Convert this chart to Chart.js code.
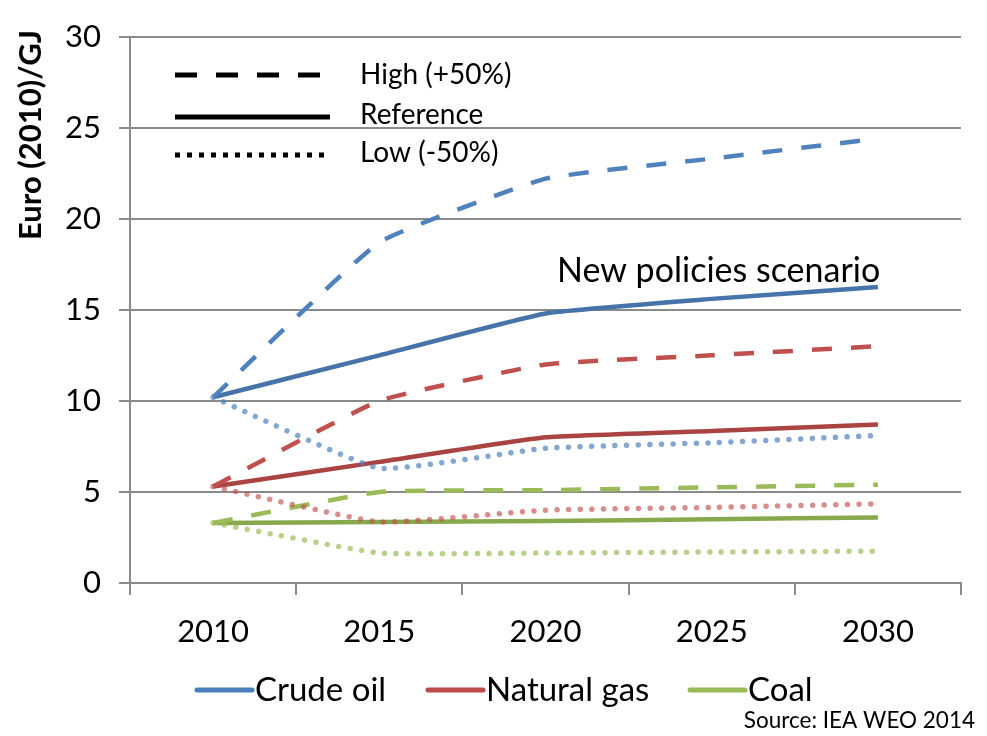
<!DOCTYPE html>
<html>
<head>
<meta charset="utf-8">
<script src="https://cdn.jsdelivr.net/npm/chart.js@4/dist/chart.umd.min.js"></script>
<style>
  body { margin: 0; background: #fff; }
  #chart { display: block; }
</style>
</head>
<body>
<canvas id="chart" width="987" height="736"></canvas>
<script>
// Data (Euro 2010 / GJ)
const YEARS = ["2010", "2015", "2020", "2025", "2030"];
const OIL_HIGH = [10.2, 18.7, 22.2, 23.3, 24.4];
const OIL_REF = [10.2, 12.5, 14.8, 15.6, 16.25];
const OIL_LOW = [10.2, 6.3, 7.4, 7.7, 8.1];
const GAS_HIGH = [5.3, 10.0, 12.0, 12.5, 13.0];
const GAS_REF = [5.3, 6.65, 8.0, 8.35, 8.7];
const GAS_LOW = [5.3, 3.35, 4.0, 4.15, 4.35];
const COAL_HIGH = [3.3, 5.0, 5.1, 5.25, 5.4];
const COAL_REF = [3.3, 3.35, 3.4, 3.5, 3.6];
const COAL_LOW = [3.3, 1.65, 1.65, 1.7, 1.75];
const Y_TICKS = [0, 5, 10, 15, 20, 25, 30];

const FONT = "Lato, 'Open Sans', sans-serif";
const GRID = "#8a8a8a";

const DASH = [20, 19];
const DOT = [0.01, 11.6];

const line = (label, data, color, style) => ({
  label,
  data,
  borderColor: color,
  borderWidth: style === "dot" ? 5.5 : 4.5,
  borderDash: style === "dash" ? DASH : style === "dot" ? DOT : [],
  borderCapStyle: style === "dot" ? "round" : "butt",
  borderJoinStyle: "round",
  pointRadius: 0,
  tension: 0.12,
  fill: false
});

// Extra text and keys drawn on top
const annotations = {
  id: "annotations",
  afterDraw(chart) {
    const ctx = chart.ctx;
    ctx.save();
    ctx.fillStyle = "#000";
    ctx.strokeStyle = "#000";

    // line-style key
    const keyX0 = 175, keyX1 = 330;
    ctx.lineWidth = 5;
    ctx.setLineDash([22, 19]);
    ctx.beginPath(); ctx.moveTo(keyX0, 75); ctx.lineTo(keyX1, 75); ctx.stroke();
    ctx.setLineDash([]);
    ctx.beginPath(); ctx.moveTo(keyX0, 117); ctx.lineTo(keyX1, 117); ctx.stroke();
    ctx.setLineDash([5, 7]);
    ctx.beginPath(); ctx.moveTo(keyX0, 155); ctx.lineTo(keyX1, 155); ctx.stroke();
    ctx.setLineDash([]);

    ctx.font = `28px ${FONT}`;
    ctx.textBaseline = "middle";
    ctx.textAlign = "left";
    ctx.fillText("High (+50%)", 360, 75);
    ctx.fillText("Reference", 360, 115);
    ctx.fillText("Low (-50%)", 360, 153);

    ctx.font = `34px ${FONT}`;
    ctx.fillText("New policies scenario", 557, 271);

    // y title
    ctx.save();
    ctx.translate(31, 135);
    ctx.rotate(-Math.PI / 2);
    ctx.textAlign = "center";
    ctx.font = `bold 31px ${FONT}`;
    ctx.fillText("Euro (2010)/GJ", 0, 0);
    ctx.restore();

    // series legend
    const items = [
      ["Crude oil", "#4a7ebb", 197],
      ["Natural gas", "#be4b48", 428],
      ["Coal", "#98b954", 690]
    ];
    ctx.font = `33px ${FONT}`;
    items.forEach(([text, color, x]) => {
      ctx.strokeStyle = color;
      ctx.lineWidth = 5;
      ctx.lineCap = "round";
      ctx.beginPath(); ctx.moveTo(x, 690); ctx.lineTo(x + 55, 690); ctx.stroke();
      ctx.fillText(text, x + 58, 690);
    });

    ctx.font = `22.5px ${FONT}`;
    ctx.textAlign = "right";
    ctx.fillText("Source: IEA WEO 2014", 975, 721);
    ctx.restore();
  }
};

const chart = new Chart(document.getElementById("chart"), {
  type: "line",
  data: {
    labels: YEARS,
    datasets: [
      line("Crude oil low", OIL_LOW, "rgba(79,129,189,0.7)", "dot"),
      line("Natural gas low", GAS_LOW, "rgba(192,80,77,0.65)", "dot"),
      line("Coal low", COAL_LOW, "rgba(155,187,89,0.7)", "dot"),
      line("Crude oil high", OIL_HIGH, "#4f81bd", "dash"),
      line("Natural gas high", GAS_HIGH, "#c0504d", "dash"),
      line("Coal high", COAL_HIGH, "#9bbb59", "dash"),
      line("Crude oil", OIL_REF, "#4573aa", "solid"),
      line("Natural gas", GAS_REF, "#a94443", "solid"),
      line("Coal", COAL_REF, "#88a84d", "solid")
    ]
  },
  options: {
    responsive: false,
    devicePixelRatio: 1,
    animation: false,
    layout: { padding: { top: 35, right: 26, left: 0, bottom: 0 } },
    plugins: {
      legend: { display: false },
      tooltip: { enabled: false }
    },
    scales: {
      x: {
        offset: true,
        grid: {
          offset: true,
          drawOnChartArea: false,
          drawTicks: true,
          tickLength: 12,
          color: GRID,
          lineWidth: 2
        },
        border: { color: GRID, width: 2 },
        ticks: { color: "#000", font: { family: FONT, size: 31 }, padding: 18, maxRotation: 0 },
        afterFit: (scale) => { scale.height = 153; }
      },
      y: {
        min: 0,
        max: 30,
        afterBuildTicks: (scale) => { scale.ticks = Y_TICKS.map((v) => ({ value: v })); },
        grid: { color: GRID, lineWidth: 2, tickLength: 11 },
        border: { color: GRID, width: 2 },
        ticks: { color: "#000", font: { family: FONT, size: 31 }, padding: 18 },
        afterFit: (scale) => { scale.width = 130; }
      }
    }
  },
  plugins: [annotations]
});
</script>
</body>
</html>
